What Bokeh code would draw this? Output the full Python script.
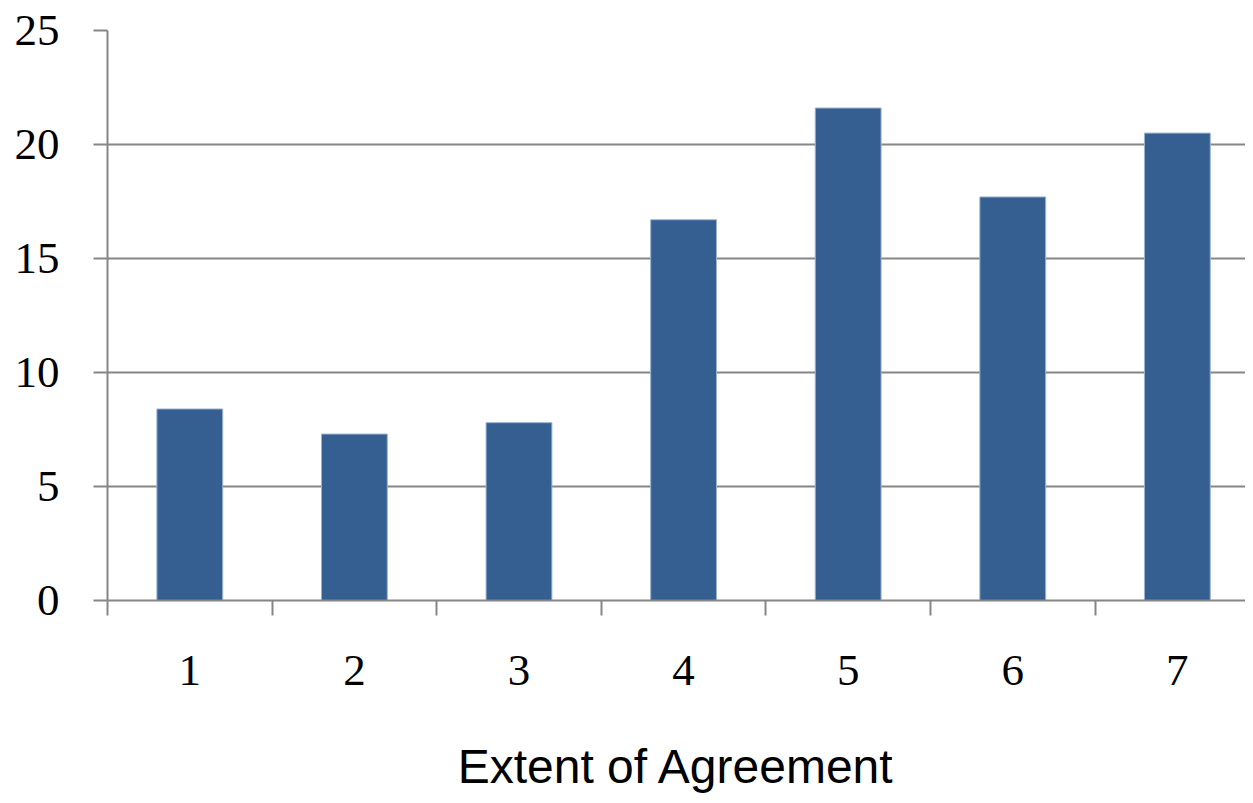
from bokeh.plotting import figure
from bokeh.models import FixedTicker, Range1d
from bokeh.embed import file_html
from bokeh.resources import INLINE

categories = [1, 2, 3, 4, 5, 6, 7]
values = [8.4, 7.3, 7.8, 16.7, 21.6, 17.7, 20.5]
y_ticks = [0, 5, 10, 15, 20, 25]
x_label = "Extent of Agreement"

GRAY = "#868686"
BAR = "#355f91"

p = figure(width=1245, height=795, output_backend="svg", toolbar_location=None,
           x_range=Range1d(0.5, 7.414), y_range=Range1d(0, 25),
           min_border_left=107, min_border_top=30, min_border_right=0,
           min_border_bottom=195)
p.outline_line_color = None
p.background_fill_color = "white"
p.border_fill_color = "white"

p.vbar(x=categories, top=values, width=0.4, bottom=0,
       fill_color=BAR, line_color="#9db3d3", line_width=1)

# y axis
ya = p.yaxis[0]
ya.ticker = FixedTicker(ticks=y_ticks)
ya.axis_line_color = GRAY
ya.axis_line_width = 2
ya.major_tick_line_color = GRAY
ya.major_tick_line_width = 2
ya.major_tick_out = 14
ya.major_tick_in = 0
ya.minor_tick_line_color = None
ya.major_label_text_font = "Liberation Serif"
ya.major_label_text_font_size = "45px"
ya.major_label_text_color = "black"
ya.major_label_standoff = 34

# x axis
xa = p.xaxis[0]
xa.ticker = FixedTicker(ticks=categories, minor_ticks=[c - 0.5 for c in categories] + [7.5])
xa.axis_line_color = GRAY
xa.axis_line_width = 2
xa.major_tick_line_color = None
xa.major_tick_out = 15
xa.major_tick_in = 0
xa.minor_tick_line_color = GRAY
xa.minor_tick_line_width = 2
xa.minor_tick_out = 15
xa.minor_tick_in = 0
xa.major_label_text_font = "Liberation Serif"
xa.major_label_text_font_size = "45px"
xa.major_label_text_color = "black"
xa.major_label_standoff = 40
xa.axis_label = x_label
xa.axis_label_text_font = "Liberation Sans"
xa.axis_label_text_font_size = "48px"
xa.axis_label_text_font_style = "normal"
xa.axis_label_text_color = "black"
xa.axis_label_standoff = 52

p.xgrid.grid_line_color = None
p.ygrid.ticker = FixedTicker(ticks=y_ticks)
p.ygrid.grid_line_color = GRAY
p.ygrid.grid_line_width = 2

open("out.html", "w").write(file_html(p, INLINE))
